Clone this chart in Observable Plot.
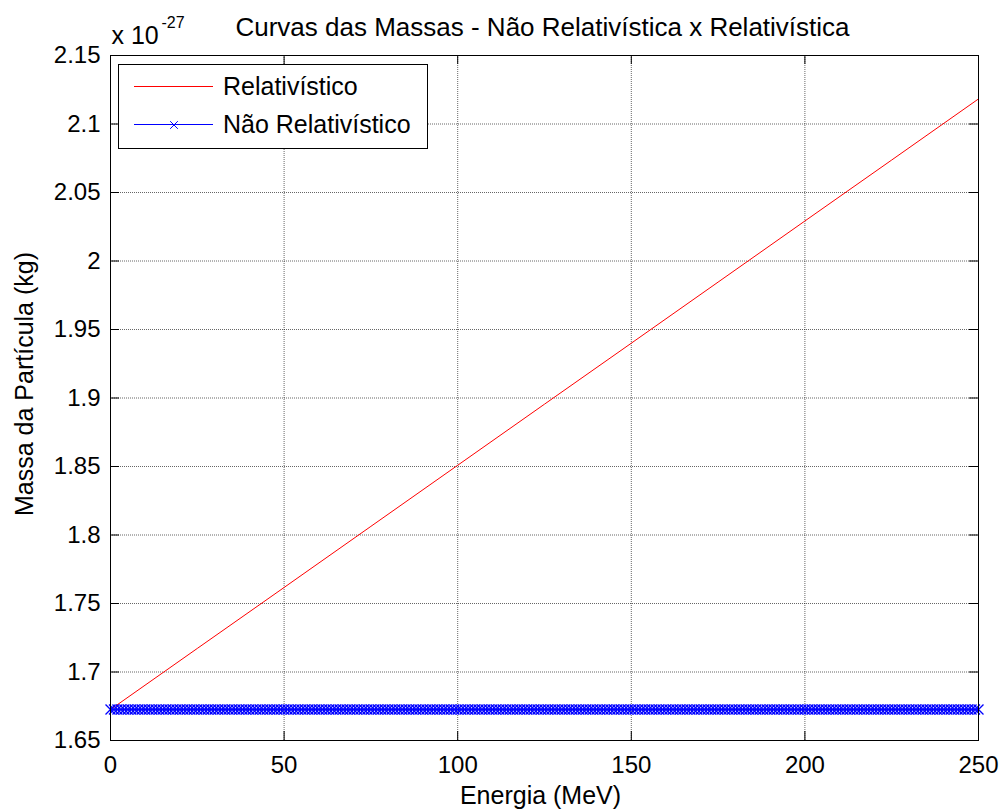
<!DOCTYPE html>
<html>
<head>
<meta charset="utf-8">
<script src="https://cdn.jsdelivr.net/npm/d3@7"></script>
<script src="https://cdn.jsdelivr.net/npm/@observablehq/plot@0.6"></script>
<style>
  html, body { margin: 0; padding: 0; background: #fff; overflow: hidden; }
</style>
</head>
<body>
<div id="chart"></div>
<script>
// ---- Data (mass in units of 10^-27 kg, energy in MeV) ----
const energiaRel = [0, 25, 50, 75, 100, 125, 150, 175, 200, 225, 250];
const massaRel = [1.6726, 1.7172, 1.7617, 1.8063, 1.8509, 1.8955, 1.9400, 1.9846, 2.0292, 2.0737, 2.1183];

const energiaNaoRel = [
  0,1,2,3,4,5,6,7,8,9,10,11,12,13,14,15,16,17,18,19,20,21,22,23,24,25,26,27,28,29,
  30,31,32,33,34,35,36,37,38,39,40,41,42,43,44,45,46,47,48,49,50,51,52,53,54,55,56,57,58,59,
  60,61,62,63,64,65,66,67,68,69,70,71,72,73,74,75,76,77,78,79,80,81,82,83,84,85,86,87,88,89,
  90,91,92,93,94,95,96,97,98,99,100,101,102,103,104,105,106,107,108,109,110,111,112,113,114,115,116,117,118,119,
  120,121,122,123,124,125,126,127,128,129,130,131,132,133,134,135,136,137,138,139,140,141,142,143,144,145,146,147,148,149,
  150,151,152,153,154,155,156,157,158,159,160,161,162,163,164,165,166,167,168,169,170,171,172,173,174,175,176,177,178,179,
  180,181,182,183,184,185,186,187,188,189,190,191,192,193,194,195,196,197,198,199,200,201,202,203,204,205,206,207,208,209,
  210,211,212,213,214,215,216,217,218,219,220,221,222,223,224,225,226,227,228,229,230,231,232,233,234,235,236,237,238,239,
  240,241,242,243,244,245,246,247,248,249,250
];
const massaNaoRel = 1.6726;

const xTicks = [0, 50, 100, 150, 200, 250];
const yTicks = [1.65, 1.7, 1.75, 1.8, 1.85, 1.9, 1.95, 2, 2.05, 2.1, 2.15];
const yTickLabels = ["1.65", "1.7", "1.75", "1.8", "1.85", "1.9", "1.95", "2", "2.05", "2.1", "2.15"];

const seriesNames = ["Relativístico", "Não Relativístico"];
const titulo = "Curvas das Massas - Não Relativística x Relativística";
const rotuloX = "Energia (MeV)";
const rotuloY = "Massa da Partícula (kg)";

// ---- Tables built from the arrays ----
const relData = energiaRel.map((e, i) => ({energia: e, massa: massaRel[i]}));
const nrData = energiaNaoRel.map(e => ({energia: e, massa: massaNaoRel}));

// ---- Layout ----
const W = 1003, H = 811;
const mL = 110, mR = 25, mT = 55, mB = 71;
const innerW = W - mL - mR, innerH = H - mT - mB;
const tickLen = 9;
const font = "'Liberation Sans', Arial, Helvetica, sans-serif";
const gridStyle = {stroke: "#000", strokeOpacity: 0.6, strokeDasharray: "1,1", strokeWidth: 1};

const chart = Plot.plot({
  width: W, height: H,
  marginLeft: mL, marginRight: mR, marginTop: mT, marginBottom: mB,
  style: {fontFamily: font, fontSize: "24px", background: "#fff", color: "#000"},
  x: {domain: [0, 250], ticks: xTicks, tickSize: 0, tickPadding: 15, label: null, tickFormat: d => String(d)},
  y: {domain: [1.65, 2.15], ticks: yTicks, tickSize: 0, tickPadding: 10, label: null,
      tickFormat: d => yTickLabels[yTicks.indexOf(d)]},
  marks: [
    Plot.ruleX(xTicks, {x: d => d, ...gridStyle}),
    Plot.ruleY(yTicks, {y: d => d, ...gridStyle}),
    Plot.line(relData, {x: "energia", y: "massa", stroke: "#ff0000", strokeWidth: 1}),
    Plot.line(nrData, {x: "energia", y: "massa", stroke: "#0000ff", strokeWidth: 1}),
    Plot.dot(nrData, {x: "energia", y: "massa", symbol: "times", r: 4.6, fill: "none", stroke: "#0000ff", strokeWidth: 1.3}),
    Plot.frame({stroke: "#000", strokeWidth: 1}),
    Plot.tickY(yTicks, {y: d => d, insetRight: innerW - tickLen, stroke: "#000"}),
    Plot.tickY(yTicks, {y: d => d, insetLeft: innerW - tickLen, stroke: "#000"}),
    Plot.tickX(xTicks, {x: d => d, insetTop: innerH - tickLen, stroke: "#000"}),
    Plot.tickX(xTicks, {x: d => d, insetBottom: innerH - tickLen, stroke: "#000"}),
    Plot.text([titulo], {frameAnchor: "top", dx: -2, dy: -20, textAnchor: "middle", lineAnchor: "bottom", fontSize: 26, fill: "#000"}),
    Plot.text([rotuloX], {frameAnchor: "bottom", dx: -4, dy: 63, textAnchor: "middle", lineAnchor: "bottom", fontSize: 25, fill: "#000"}),
    Plot.text([rotuloY], {frameAnchor: "left", dx: -78, dy: -14, rotate: -90, textAnchor: "middle", lineAnchor: "bottom", fontSize: 25, fill: "#000"}),
    Plot.text(["x 10"], {frameAnchor: "top-left", dx: 1, dy: -12, textAnchor: "start", lineAnchor: "bottom", fontSize: 25, fill: "#000"}),
    Plot.text(["-27"], {frameAnchor: "top-left", dx: 51, dy: -28, textAnchor: "start", lineAnchor: "bottom", fontSize: 16, fill: "#000"})
  ]
});

document.getElementById("chart").appendChild(chart);

// ---- Legend (inside the plot area, top-left) ----
const svg = d3.select(chart);
const lg = svg.append("g").attr("font-family", font).attr("font-size", 25).attr("text-anchor", "start");
lg.append("rect").attr("x", 118.5).attr("y", 64.5).attr("width", 309).attr("height", 84)
  .attr("fill", "#fff").attr("stroke", "#000").attr("stroke-width", 1);
lg.append("line").attr("x1", 134).attr("x2", 213).attr("y1", 86.5).attr("y2", 86.5)
  .attr("stroke", "#ff0000").attr("stroke-width", 1);
lg.append("line").attr("x1", 134).attr("x2", 213).attr("y1", 124.5).attr("y2", 124.5)
  .attr("stroke", "#0000ff").attr("stroke-width", 1);
lg.append("path").attr("d", d3.symbol(d3.symbolTimes, 40)()).attr("transform", "translate(174,125)")
  .attr("fill", "none").attr("stroke", "#0000ff").attr("stroke-width", 1);
lg.append("text").attr("x", 223).attr("y", 95).attr("text-anchor", "start").attr("fill", "#000").text(seriesNames[0]);
lg.append("text").attr("x", 223).attr("y", 133).attr("text-anchor", "start").attr("fill", "#000").text(seriesNames[1]);
</script>
</body>
</html>
